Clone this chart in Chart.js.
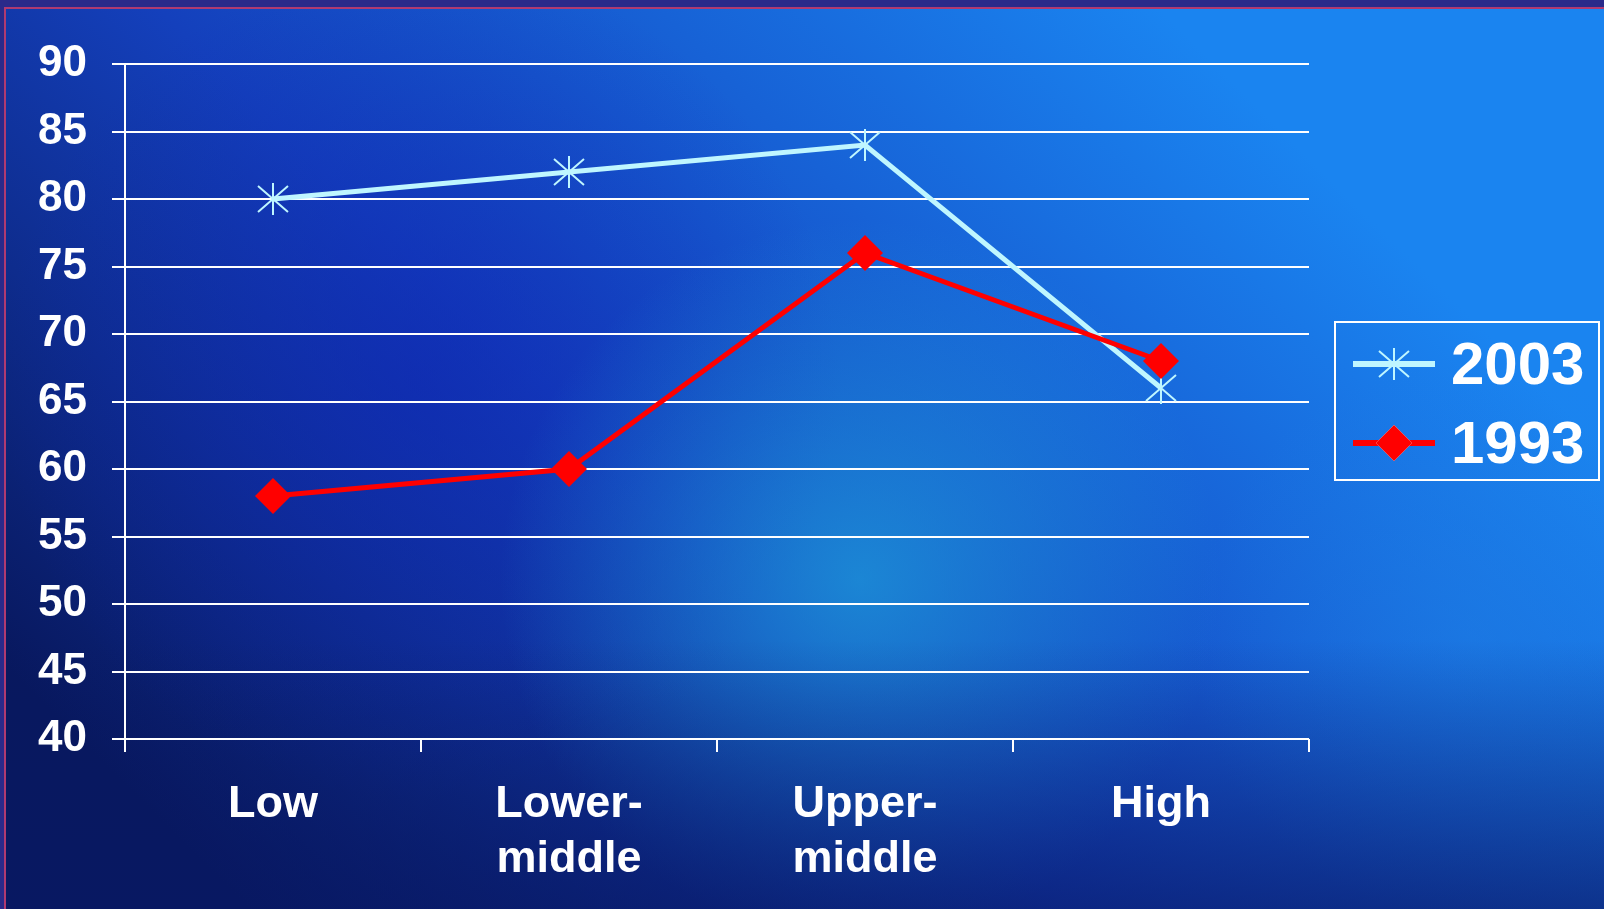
<!DOCTYPE html>
<html>
<head>
<meta charset="utf-8">
<script src="https://cdn.jsdelivr.net/npm/chart.js@4/dist/chart.umd.min.js"></script>
<style>
  html, body { margin: 0; padding: 0; background: #0a1a66; }
  #wrap { width: 1604px; height: 909px; position: relative; }
</style>
</head>
<body>
<div id="wrap"><canvas id="incomeChart"></canvas></div>
<script>
const groups = [['Low'], ['Lower-', 'middle'], ['Upper-', 'middle'], ['High']];
const values2003 = [80, 82, 84, 66];
const values1993 = [58, 60, 76, 68];
const yTicks = [40, 45, 50, 55, 60, 65, 70, 75, 80, 85, 90];

const cyan = '#bff6ff';
const red = '#ff0000';
const font = "'Liberation Sans', Arial, sans-serif";

// asterisk marker: one upright stroke and two diagonals
const makeStar = () => {
  const c = document.createElement('canvas');
  c.width = 36; c.height = 36;
  const g = c.getContext('2d');
  g.strokeStyle = cyan;
  g.lineWidth = 2;
  g.beginPath();
  g.moveTo(18, 2); g.lineTo(18, 34);
  g.moveTo(3, 5); g.lineTo(33, 31);
  g.moveTo(33, 5); g.lineTo(3, 31);
  g.stroke();
  return c;
};
const starMark = makeStar();

const backdrop = {
  id: 'backdrop',
  beforeDraw(chart) {
    const { ctx, width, height } = chart;
    ctx.save();
    let g = ctx.createLinearGradient(250, height, 1150, 0);
    g.addColorStop(0, '#08185e');
    g.addColorStop(0.45, '#1440bc');
    g.addColorStop(1, '#1a84f0');
    ctx.fillStyle = g;
    ctx.fillRect(0, 0, width, height);

    // darker band behind the upper half of the plot
    g = ctx.createRadialGradient(420, 380, 0, 420, 380, 420);
    g.addColorStop(0, 'rgba(14,36,180,0.55)');
    g.addColorStop(1, 'rgba(14,36,180,0)');
    ctx.fillStyle = g;
    ctx.fillRect(0, 0, width, height);

    // lighter cyan glow in the lower middle
    g = ctx.createRadialGradient(860, 580, 0, 860, 580, 360);
    g.addColorStop(0, 'rgba(30,160,220,0.7)');
    g.addColorStop(1, 'rgba(30,160,220,0)');
    ctx.fillStyle = g;
    ctx.fillRect(0, 0, width, height);

    g = ctx.createRadialGradient(1470, 640, 0, 1470, 640, 280);
    g.addColorStop(0, 'rgba(30,130,230,0.45)');
    g.addColorStop(1, 'rgba(30,130,230,0)');
    ctx.fillStyle = g;
    ctx.fillRect(0, 0, width, height);

    // navy shade along the bottom edge
    g = ctx.createLinearGradient(0, 640, 0, height);
    g.addColorStop(0, 'rgba(8,24,100,0)');
    g.addColorStop(1, 'rgba(8,24,100,0.65)');
    ctx.fillStyle = g;
    ctx.fillRect(0, 640, width, height - 640);

    // slide frame at the top and left edge
    ctx.fillStyle = '#2a2a8a';
    ctx.fillRect(0, 0, width, 7);
    ctx.fillRect(0, 0, 4, height);
    ctx.strokeStyle = '#b03a70';
    ctx.lineWidth = 2;
    ctx.beginPath();
    ctx.moveTo(5, height); ctx.lineTo(5, 8); ctx.lineTo(width, 8);
    ctx.stroke();
    ctx.restore();
  }
};

const boxLegend = {
  id: 'boxLegend',
  afterDraw(chart) {
    const { ctx } = chart;
    ctx.save();
    ctx.strokeStyle = '#ffffff';
    ctx.lineWidth = 2;
    ctx.strokeRect(1335, 322, 264, 158);
    const rows = [
      { ds: chart.data.datasets[0], y: 364 },
      { ds: chart.data.datasets[1], y: 443 }
    ];
    rows.forEach(r => {
      ctx.strokeStyle = r.ds.borderColor;
      ctx.lineWidth = 6;
      ctx.beginPath();
      ctx.moveTo(1353, r.y); ctx.lineTo(1435, r.y);
      ctx.stroke();
      if (r.ds.pointStyle === 'rectRot') {
        Chart.helpers.drawPoint(ctx, {
          pointStyle: 'rectRot', radius: r.ds.pointRadius, rotation: 0,
          borderWidth: 0
        }, 1394, r.y);
        ctx.fillStyle = r.ds.pointBackgroundColor;
        ctx.fill();
      } else {
        ctx.drawImage(starMark, 1394 - 18, r.y - 18);
      }
      ctx.fillStyle = '#ffffff';
      ctx.font = 'bold 60px ' + font;
      ctx.textBaseline = 'middle';
      ctx.textAlign = 'left';
      ctx.fillText(r.ds.label, 1451, r.y + 3);
    });
    ctx.restore();
  }
};

new Chart(document.getElementById('incomeChart'), {
  type: 'line',
  data: {
    labels: groups,
    datasets: [{
      label: '2003',
      data: values2003,
      borderColor: cyan,
      borderWidth: 5,
      pointStyle: starMark,
      pointRadius: 18,
      order: 1
    }, {
      label: '1993',
      data: values1993,
      borderColor: red,
      borderWidth: 5,
      pointStyle: 'rectRot',
      pointRadius: 18,
      pointBackgroundColor: red,
      pointBorderColor: red,
      pointBorderWidth: 0,
      order: 0
    }]
  },
  options: {
    responsive: true,
    maintainAspectRatio: false,
    animation: false,
    layout: { padding: { left: 0, top: 64, right: 295, bottom: 0 } },
    plugins: {
      legend: { display: false },
      tooltip: { enabled: false }
    },
    scales: {
      x: {
        offset: true,
        afterFit: s => { s.height = 909 - 739; },
        grid: {
          offset: true,
          drawOnChartArea: true,
          color: c => c.index === groups.length ? '#ffffff' : 'rgba(0,0,0,0)',
          tickColor: '#ffffff',
          lineWidth: 2,
          tickLength: 13
        },
        border: { display: false },
        ticks: {
          color: '#ffffff',
          padding: 25,
          maxRotation: 0,
          font: { family: font, size: 45, weight: 'bold', lineHeight: 1.23 }
        }
      },
      y: {
        min: 40,
        max: 90,
        afterFit: s => { s.width = 125; },
        afterBuildTicks: s => { s.ticks = yTicks.map(v => ({ value: v })); },
        grid: {
          color: '#ffffff',
          lineWidth: 2,
          tickLength: 13
        },
        border: { display: true, color: '#ffffff', width: 2 },
        ticks: {
          color: '#ffffff',
          padding: 25,
          font: { family: font, size: 44, weight: 'bold' }
        }
      }
    }
  },
  plugins: [backdrop, boxLegend]
});
</script>
</body>
</html>
